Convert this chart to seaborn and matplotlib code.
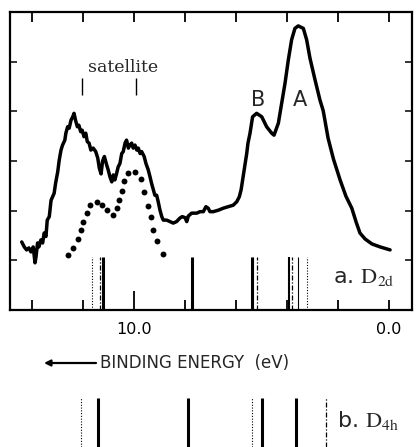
import matplotlib
matplotlib.use("Agg")
import matplotlib.pyplot as plt
import pandas as pd
import seaborn as sns

# Photoelectron spectrum (binding energy in eV, intensity in arbitrary units)
energy = [14.40, 14.30, 14.21, 14.12, 14.04, 13.95, 13.88, 13.84, 13.78, 13.73,
          13.65, 13.58, 13.52, 13.45, 13.40, 13.32, 13.25, 13.19, 13.13, 13.07,
          12.99, 12.93, 12.86, 12.80, 12.71, 12.67, 12.60, 12.54, 12.47, 12.40,
          12.35, 12.29, 12.22, 12.16, 12.09, 12.03, 11.96, 11.89, 11.83, 11.76,
          11.69, 11.60, 11.50, 11.42, 11.36, 11.29, 11.23, 11.16, 11.07, 11.01,
          10.94, 10.87, 10.81, 10.75, 10.68, 10.62, 10.55, 10.48, 10.42, 10.35,
          10.29, 10.22, 10.16, 10.09, 10.03, 9.96, 9.89, 9.83, 9.76, 9.70,
          9.60, 9.53, 9.44, 9.37, 9.31, 9.24, 9.18, 9.11, 9.05, 8.98,
          8.91, 8.85, 8.72, 8.59, 8.46, 8.33, 8.20, 8.11, 8.00, 7.93,
          7.87, 7.74, 7.54, 7.41, 7.28, 7.18, 7.09, 7.02, 6.89, 6.69,
          6.50, 6.30, 6.11, 5.97, 5.87, 5.80, 5.74, 5.69, 5.58, 5.53,
          5.45, 5.35, 5.19, 4.99, 4.80, 4.60, 4.51, 4.34, 4.21, 4.08,
          3.95, 3.82, 3.69, 3.56, 3.36, 3.23, 3.10, 2.90, 2.71, 2.58,
          2.39, 2.18, 1.92, 1.69, 1.46, 1.29, 1.14, 0.94, 0.67, 0.35,
          -0.04]
intensity = [1.37, 1.27, 1.21, 1.25, 1.17, 1.27, 0.95, 1.07, 1.35, 1.27,
             1.41, 1.35, 1.55, 1.48, 1.81, 1.88, 2.21, 2.28, 2.35, 2.56,
             2.78, 3.02, 3.22, 3.32, 3.42, 3.56, 3.69, 3.66, 3.82, 3.89,
             3.96, 3.82, 3.69, 3.72, 3.59, 3.62, 3.49, 3.56, 3.39, 3.36,
             3.22, 3.26, 3.19, 3.06, 2.86, 2.74, 3.00, 3.09, 2.92, 2.82,
             2.68, 2.58, 2.72, 2.62, 2.75, 2.88, 2.95, 3.15, 3.19, 3.36,
             3.42, 3.26, 3.32, 3.36, 3.26, 3.32, 3.22, 3.26, 3.15, 3.19,
             3.09, 2.95, 2.82, 2.68, 2.55, 2.42, 2.31, 2.31, 2.18, 2.01,
             1.88, 1.81, 1.81, 1.78, 1.75, 1.78, 1.85, 1.88, 1.86, 1.78,
             1.89, 1.95, 1.95, 1.98, 1.98, 2.08, 2.05, 1.98, 1.98, 2.01,
             2.05, 2.08, 2.11, 2.18, 2.28, 2.42, 2.62, 2.78, 3.15, 3.36,
             3.56, 3.89, 3.96, 3.89, 3.69, 3.56, 3.52, 3.76, 4.16, 4.56,
             5.03, 5.44, 5.67, 5.72, 5.67, 5.44, 5.07, 4.63, 4.23, 4.01,
             3.46, 3.04, 2.62, 2.29, 2.05, 1.77, 1.55, 1.43, 1.33, 1.27,
             1.21]

# Satellite structure (dotted curve)
sat_energy = [12.59, 12.39, 12.20, 12.08, 12.00, 11.84, 11.73, 11.45, 11.25, 11.06,
              10.82, 10.67, 10.59, 10.47, 10.39, 10.24, 9.96, 9.73, 9.61, 9.45,
              9.33, 9.25, 9.10, 8.86]
sat_intensity = [1.11, 1.25, 1.43, 1.61, 1.77, 1.95, 2.11, 2.17, 2.11, 2.01,
                 1.91, 2.05, 2.21, 2.40, 2.60, 2.76, 2.78, 2.64, 2.38, 2.09,
                 1.87, 1.61, 1.39, 1.13]

# Calculated levels for the two geometries
d2d_levels = [11.66, 11.33, 11.23, 7.73, 5.38, 5.33, 5.19, 3.92, 3.80, 3.57, 3.22]
d2d_styles = ["dotted", "dashdot", "solid", "solid", "solid", "dotted", "dashdot",
              "medium", "dashdot", "thin", "dotted"]
d4h_levels = [12.09, 11.42, 7.89, 5.36, 4.97, 3.66, 2.47]
d4h_styles = ["dotted", "solid", "solid", "dotted", "solid", "solid", "dashdot"]

satellite_marks = [12.04, 9.92]
tick_positions = [14, 12, 10, 8, 6, 4, 2, 0]
tick_labels = ["", "", "10.0", "", "", "", "", "0.0"]

line_styles = {
    "solid": dict(linestyles="-", linewidths=2.2),
    "medium": dict(linestyles="-", linewidths=1.5),
    "thin": dict(linestyles="-", linewidths=0.8),
    "dotted": dict(linestyles=[(0, (1, 1.5))], linewidths=0.8),
    "dashdot": dict(linestyles=[(0, (4, 1.5, 1, 1.5))], linewidths=0.9),
}

sns.set_theme(style="ticks")
plt.rcParams["font.family"] = ["DejaVu Sans"]
plt.rcParams["mathtext.fontset"] = "stix"

W, H = 419, 447
fig = plt.figure(figsize=(W / 100, H / 100), dpi=100)
fig.patch.set_facecolor("white")

ax = fig.add_axes([10 / W, 137 / H, 402 / W, 298 / H])
ax.set_facecolor("white")

spec = pd.DataFrame({"energy": energy, "intensity": intensity})
sat = pd.DataFrame({"energy": sat_energy, "intensity": sat_intensity})

sns.lineplot(data=spec, x="energy", y="intensity", ax=ax, color="black",
             linewidth=2.5, estimator=None, sort=False)
sns.scatterplot(data=sat, x="energy", y="intensity", ax=ax, color="black",
                s=18, linewidth=0)

for lvl, sty in zip(d2d_levels, d2d_styles):
    ax.vlines(lvl, 0, 1.07, colors="black", **line_styles[sty])

ax.set_xlim(14.86, -0.90)
ax.set_ylim(0, 6)
ax.set_xlabel("")
ax.set_ylabel("")

ax.set_xticks(tick_positions)
ax.set_xticklabels(tick_labels)
ax.set_yticks(range(7))
ax.set_yticklabels([])
ax.tick_params(axis="x", direction="in", top=True, bottom=True, length=7,
               width=1.3, pad=9, labelsize=11.5, colors="black")
ax.tick_params(axis="y", direction="in", left=True, right=True, length=5,
               width=1.3, labelleft=False)
ax.xaxis.get_major_ticks()[2].tick1line.set_markersize(14)
for sp in ax.spines.values():
    sp.set_linewidth(1.6)
    sp.set_color("black")

ax.text(10.43, 4.89, "satellite", family="DejaVu Serif", fontsize=12.5,
        ha="center", va="center")
ax.vlines(satellite_marks, 4.33, 4.67, colors="black", linewidths=1.0)
ax.text(5.14, 4.23, "B", fontsize=15, ha="center", va="center")
ax.text(3.49, 4.23, "A", fontsize=15, ha="center", va="center")
ax.text(2.2, 0.54, r"a. $\mathrm{D_{2d}}$", fontsize=16, ha="left", va="baseline")

# Axis title with arrow pointing toward higher binding energy
y_lab = 1 - 363 / H
ax.annotate("", xy=(44 / W, y_lab), xytext=(96 / W, y_lab),
            xycoords="figure fraction", textcoords="figure fraction",
            arrowprops=dict(arrowstyle="-|>", lw=1.6, color="black",
                            mutation_scale=9, shrinkA=0, shrinkB=0))
fig.text(100 / W, y_lab, "BINDING ENERGY  (eV)", fontsize=12, ha="left",
         va="center")

# Lower panel: D4h levels
axb = fig.add_axes([10 / W, 0, 402 / W, 49 / H])
axb.set_xlim(14.86, -0.90)
axb.set_ylim(0, 1)
axb.axis("off")
for lvl, sty in zip(d4h_levels, d4h_styles):
    axb.vlines(lvl, 0, 1, colors="black", **line_styles[sty])
axb.text(2.04, 0.41, r"b. $\mathrm{D_{4h}}$", fontsize=16, ha="left",
         va="baseline")

fig.savefig("out.png", dpi=100, facecolor="white")
